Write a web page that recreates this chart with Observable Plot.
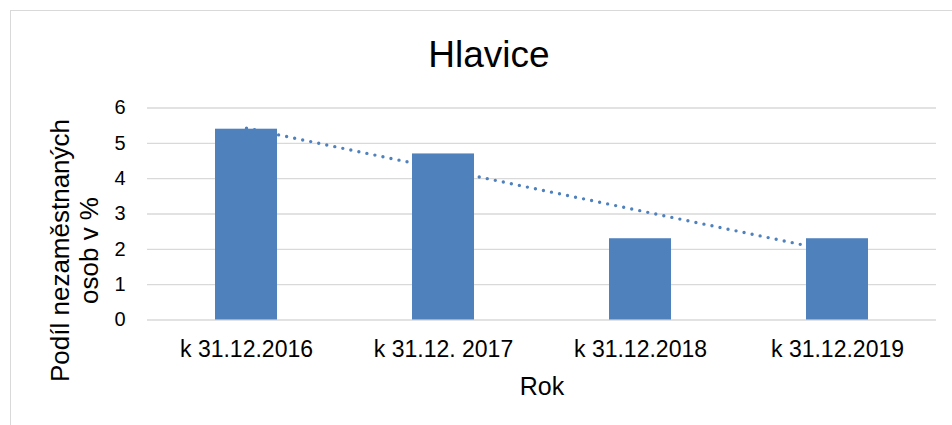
<!DOCTYPE html>
<html><head><meta charset="utf-8">
<script src="https://cdn.jsdelivr.net/npm/d3@7"></script>
<script src="https://cdn.jsdelivr.net/npm/@observablehq/plot@0.6"></script>
<style>
html,body{margin:0;padding:0;background:#fff;overflow:hidden;}
#wrap{position:relative;width:952px;height:425px;overflow:hidden;}
#wrap svg{position:absolute;left:0;top:0;}
#border{position:absolute;left:10px;top:10px;width:2000px;height:2000px;border-top:1.5px solid #d9d9d9;border-left:1.5px solid #d9d9d9;pointer-events:none;z-index:2;}
</style></head><body><div id="wrap"><div id="border"></div></div>
<script>
const categories = ["k 31.12.2016", "k 31.12. 2017", "k 31.12.2018", "k 31.12.2019"];
const values = [5.4, 4.7, 2.3, 2.3];
const yTicks = [0, 1, 2, 3, 4, 5, 6];
const title = "Hlavice";
const yLabel = "Podíl nezaměstnaných\nosob v %";
const xLabel = "Rok";

const data = categories.map((c, i) => ({cat: c, value: values[i]}));

// linear trendline (least squares) computed from the values
const mx = d3.mean(values, (_, i) => i);
const my = d3.mean(values);
const slope = d3.sum(values, (v, i) => (i - mx) * (v - my)) / d3.sum(values, (_, i) => (i - mx) ** 2);
const trend = categories.map((c, i) => ({cat: c, value: my + slope * (i - mx)}));

const blue = "#4F81BD";
const font = "'Liberation Sans', Arial, sans-serif";

const chart = Plot.plot({
  width: 952,
  height: 425,
  marginLeft: 147,
  marginRight: 16,
  marginTop: 107.5,
  marginBottom: 105.5,
  style: {fontFamily: font, background: "transparent", color: "#000"},
  x: {domain: categories, paddingInner: 0.687, paddingOuter: 0.3435, label: null},
  y: {domain: [0, 6], ticks: yTicks, label: null},
  marks: [
    Plot.gridY(yTicks, {stroke: "#d9d9d9", strokeOpacity: 1, strokeWidth: 1.4}),
    Plot.line(trend, {x: "cat", y: "value", stroke: blue, strokeWidth: 3.4, strokeDasharray: "0,8.2", strokeLinecap: "round"}),
    Plot.barY(data, {x: "cat", y: "value", fill: blue}),
    Plot.axisY(yTicks, {tickSize: 0, tickPadding: 22, fontSize: 20, label: null}),
    Plot.axisX({tickSize: 0, tickPadding: 21, fontSize: 23, label: null}),
    Plot.text([title], {frameAnchor: "top", lineAnchor: "bottom", dx: -53, dy: -41, fontSize: 37, fill: "#000"}),
    Plot.text([xLabel], {frameAnchor: "bottom", lineAnchor: "bottom", dy: 75, fontSize: 25, fill: "#000"}),
    Plot.text([yLabel], {frameAnchor: "left", textAnchor: "middle", lineAnchor: "bottom", rotate: -90, dx: -50, dy: 36.5, fontSize: 26, lineHeight: 1.08, fill: "#000"})
  ]
});
document.getElementById("wrap").appendChild(chart);
</script>
</body></html>
